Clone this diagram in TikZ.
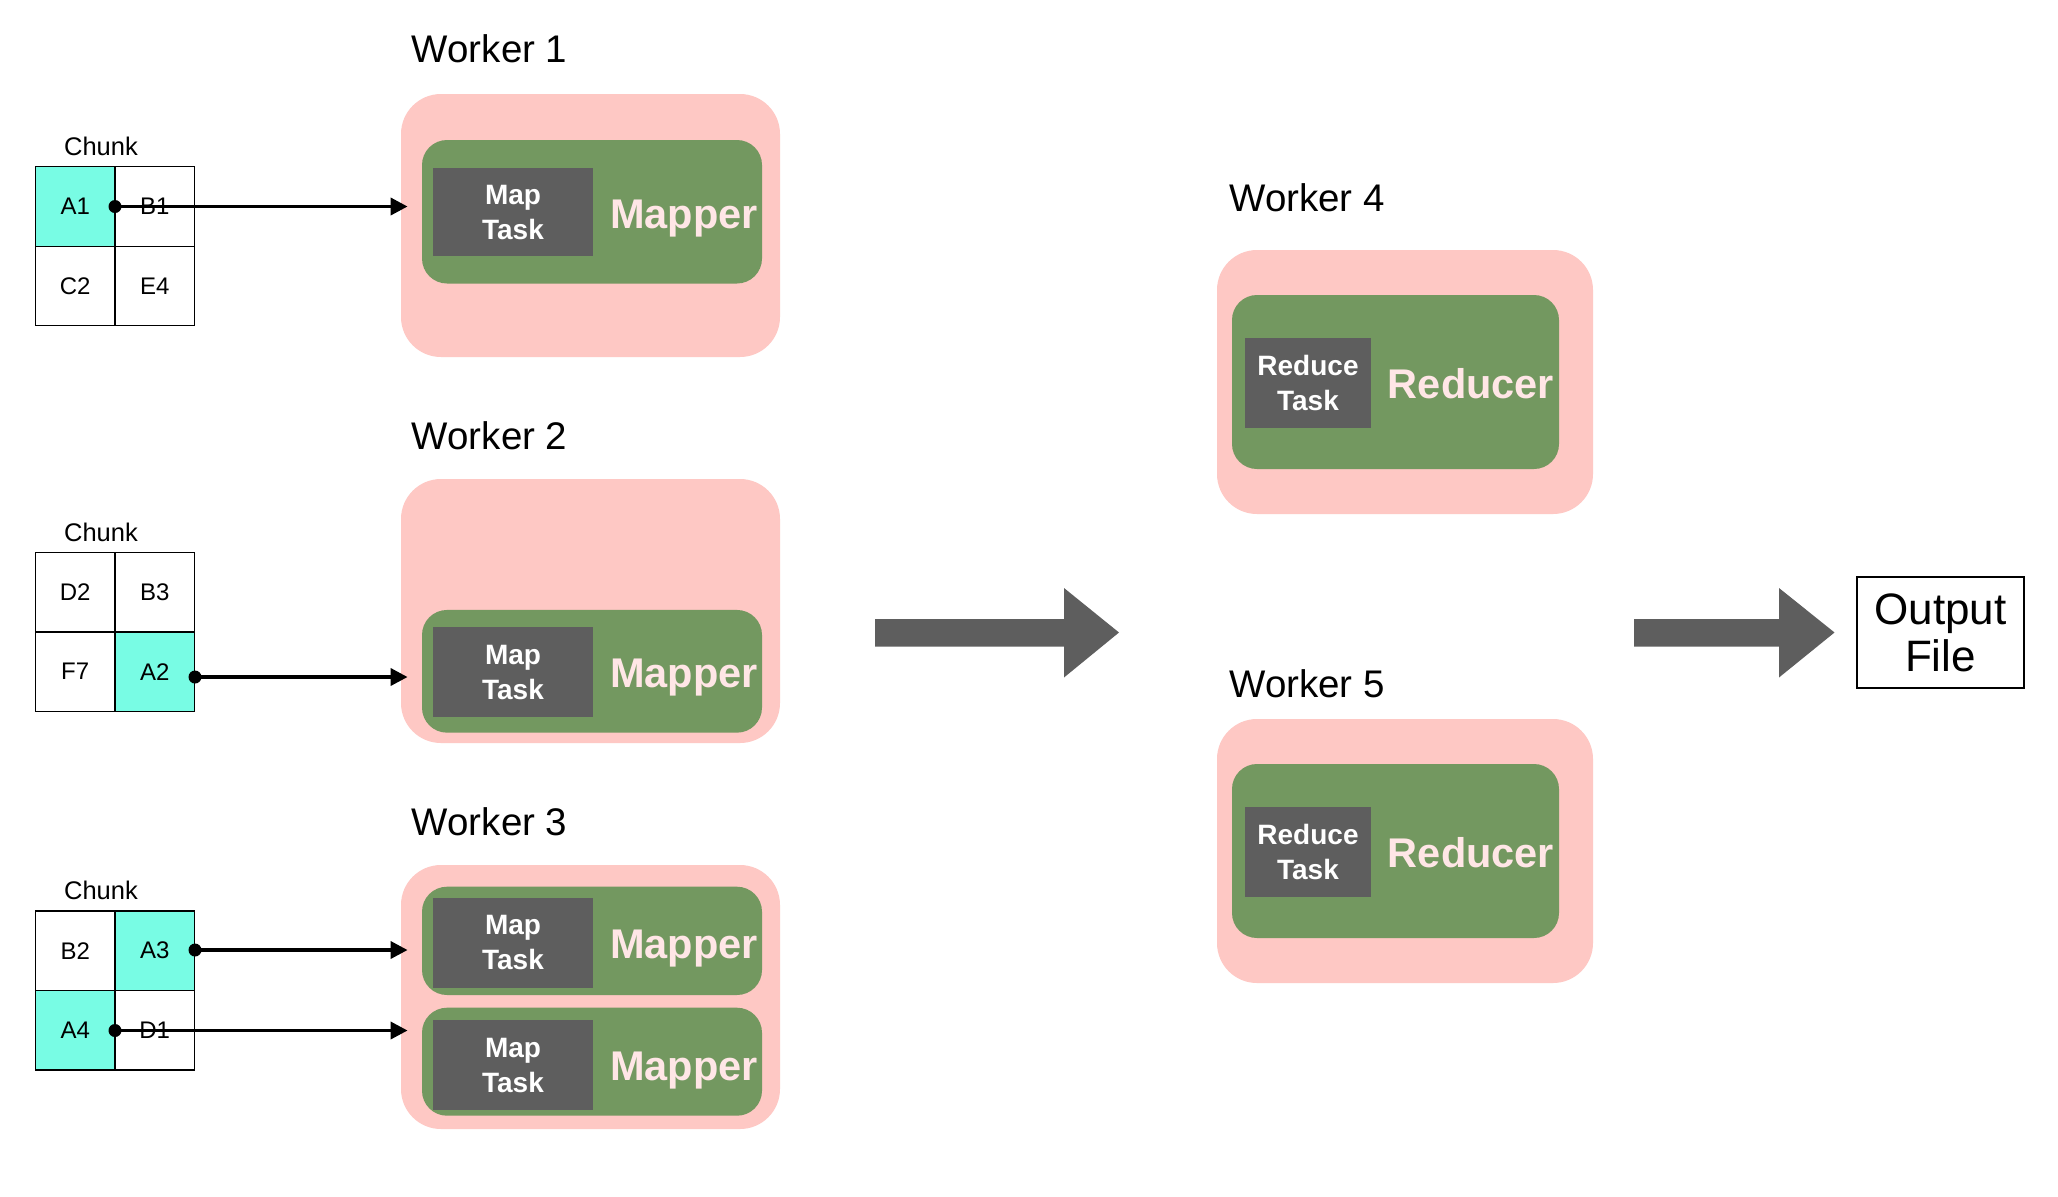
\documentclass[tikz,border=0pt]{standalone}
\usepackage{fontspec}
\setmainfont{Liberation Sans}
\usetikzlibrary{arrows.meta}
\definecolor{pinkc}{HTML}{FEC8C4}
\definecolor{greenc}{HTML}{739860}
\definecolor{darkc}{HTML}{5E5E5E}
\definecolor{cyanc}{HTML}{78FCE4}
\definecolor{roletxt}{HTML}{FFE6E6}
\begin{document}
\begin{tikzpicture}[x=0.5pt,y=-0.5pt,
  pinkbox/.style={fill=pinkc,draw=none,rounded corners=20pt,inner sep=0pt},
  greenbox/.style={fill=greenc,draw=none,rounded corners=12.5pt,inner sep=0pt},
  taskbox/.style={fill=darkc,draw=none,text=white,inner sep=0pt,align=center,
    font=\bfseries\fontsize{14pt}{17.5pt}\selectfont},
  role/.style={text=roletxt,anchor=base,inner sep=0pt,font=\bfseries\fontsize{20.75pt}{25pt}\selectfont},
  wlabel/.style={anchor=base west,inner sep=0pt,font=\fontsize{19.25pt}{23pt}\selectfont},
  chunklabel/.style={anchor=base,inner sep=0pt,font=\fontsize{12.75pt}{15pt}\selectfont},
  cell/.style={draw=black,line width=0.6pt,minimum width=39.75pt,minimum height=39.75pt,inner sep=0pt,
    font=\fontsize{12pt}{14pt}\selectfont},
  hot/.style={cell,fill=cyanc},
  dot/.style={circle,fill=black,inner sep=0pt,minimum size=6.5pt},
  feed/.style={line width=1.8pt,-{Triangle[length=8.5pt,width=8.5pt]},shorten >=-3.5pt},
  bigarrow/.style={fill=darkc,draw=none}
]
\useasboundingbox (0,0) rectangle (2058,1196);
\fill[white] (0,0) rectangle (2058,1196);

% ---------- Worker 1 ----------
\node[wlabel] (wl1) at (411.5,62.7) {Worker 1};
\node[pinkbox,minimum width=189.5pt,minimum height=131.5pt] (w1) at (590.5,225.5) {};
\node[greenbox,minimum width=170pt,minimum height=71.75pt] (g1) at (592,211.75) {};
\node[taskbox,minimum width=80pt,minimum height=44pt] (t1) at (513,212) {Map\\Task};
\node[role] (r1) at (684,228) {Mapper};

% ---------- Worker 2 ----------
\node[wlabel] (wl2) at (411.5,449.3) {Worker 2};
\node[pinkbox,minimum width=189.5pt,minimum height=132pt] (w2) at (590.5,611) {};
\node[greenbox,minimum width=170pt,minimum height=61.35pt] (g2) at (592,671.3) {};
\node[taskbox,minimum width=80pt,minimum height=44.7pt] (t2) at (513,672) {Map\\Task};
\node[role] (r2) at (684,687.5) {Mapper};

% ---------- Worker 3 ----------
\node[wlabel] (wl3) at (411.5,835) {Worker 3};
\node[pinkbox,minimum width=189.5pt,minimum height=132pt] (w3) at (590.5,997) {};
\node[greenbox,minimum width=170pt,minimum height=54.15pt] (g3a) at (592,940.85) {};
\node[taskbox,minimum width=80pt,minimum height=45pt] (t3a) at (513,942.7) {Map\\Task};
\node[role] (r3a) at (684,958) {Mapper};
\node[greenbox,minimum width=170pt,minimum height=54pt] (g3b) at (592,1061.7) {};
\node[taskbox,minimum width=80pt,minimum height=45pt] (t3b) at (513,1065) {Map\\Task};
\node[role] (r3b) at (684,1080.5) {Mapper};

% ---------- Worker 4 ----------
\node[wlabel] (wl4) at (1229,211.7) {Worker 4};
\node[pinkbox,minimum width=188pt,minimum height=132pt] (w4) at (1405,382) {};
\node[greenbox,minimum width=163.5pt,minimum height=87pt] (g4) at (1395.5,382) {};
\node[taskbox,minimum width=63pt,minimum height=45pt] (t4) at (1308,383) {Reduce\\Task};
\node[role] (r4) at (1471,398) {Reducer};

% ---------- Worker 5 ----------
\node[wlabel] (wl5) at (1229,697) {Worker 5};
\node[pinkbox,minimum width=188pt,minimum height=132pt] (w5) at (1405,851) {};
\node[greenbox,minimum width=163.5pt,minimum height=87pt] (g5) at (1395.5,851) {};
\node[taskbox,minimum width=63pt,minimum height=45pt] (t5) at (1308,852) {Reduce\\Task};
\node[role] (r5) at (1471,867) {Reducer};

% ---------- Chunk tables ----------
\node[chunklabel] (cl1) at (101,155) {Chunk};
\node[hot]  (a1) at (75.25,206.5) {A1};
\node[cell] (b1) at (154.75,206.5) {B1};
\node[cell] (c2) at (75.25,286) {C2};
\node[cell] (e4) at (154.75,286) {E4};

\node[chunklabel] (cl2) at (101,541.7) {Chunk};
\node[cell] (d2) at (75.25,592.2) {D2};
\node[cell] (b3) at (154.75,592.2) {B3};
\node[cell] (f7) at (75.25,671.7) {F7};
\node[hot]  (a2) at (154.75,671.7) {A2};

\node[chunklabel] (cl3) at (101,899.3) {Chunk};
\node[cell] (b2) at (75.25,950.7) {B2};
\node[hot]  (a3) at (154.75,950.7) {A3};
\node[hot]  (a4) at (75.25,1030.2) {A4};
\node[cell] (d1) at (154.75,1030.2) {D1};

% ---------- feeds ----------
\node[dot] (p1) at (115,206.5) {};
\node[dot] (p2) at (195,677) {};
\node[dot] (p3) at (195,950) {};
\node[dot] (p4) at (115,1030.5) {};
\draw[feed] (p1.center) -- (p1 -| w1.west);
\draw[feed] (p2.center) -- (p2 -| w2.west);
\draw[feed] (p3.center) -- (p3 -| w3.west);
\draw[feed] (p4.center) -- (p4 -| w3.west);

% ---------- big arrows ----------
\fill[bigarrow] (875,619) -- (1064,619) -- (1064,588) -- (1119,632.5) -- (1064,677.5) -- (1064,646.5) -- (875,646.5) -- cycle;
\fill[bigarrow] (1634,619) -- (1779,619) -- (1779,588) -- (1834.5,632.5) -- (1779,677.5) -- (1779,646.5) -- (1634,646.5) -- cycle;

% ---------- output ----------
\node[draw=black,line width=0.6pt,minimum width=83.5pt,minimum height=55.5pt,inner sep=0pt,align=center,
  font=\fontsize{22pt}{23.5pt}\selectfont] (out) at (1940.5,632.5) {Output\\File};
\end{tikzpicture}
\end{document}
